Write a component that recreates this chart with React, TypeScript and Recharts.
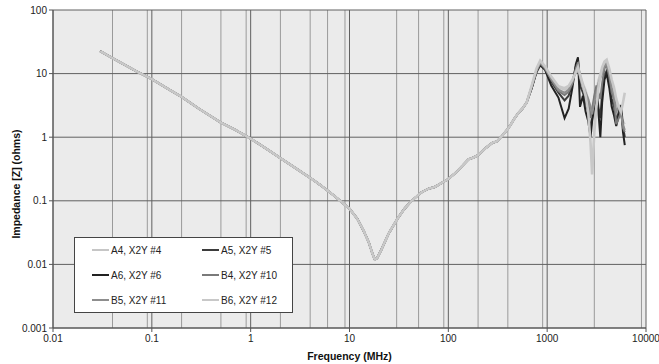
import { LineChart, Line, XAxis, YAxis, CartesianGrid } from "recharts";

// shared part of the sweep: all six samples sit on top of each other up to ~600 MHz
const lowFreq = [
  0.03, 0.04, 0.05, 0.07, 0.1, 0.15, 0.2, 0.3, 0.5, 0.7, 1, 1.5, 2, 3, 4, 5, 7, 10, 12, 14,
  15.7, 17, 18, 19, 21, 25, 31, 36, 42, 53, 63, 73, 85, 100, 120, 140, 160, 180, 200, 240,
  280, 310, 350, 400, 430, 470, 510, 560, 620,
];
const lowZ = [
  22.5, 17.5, 14.5, 10.8, 8.2, 5.6, 4.3, 2.8, 1.7, 1.3, 0.95, 0.63, 0.47, 0.31, 0.23, 0.18,
  0.12, 0.075, 0.052, 0.033, 0.022, 0.015, 0.012, 0.0125, 0.017, 0.031, 0.054, 0.075, 0.098,
  0.135, 0.155, 0.165, 0.19, 0.22, 0.28, 0.36, 0.45, 0.48, 0.52, 0.68, 0.82, 0.86, 1.05, 1.35,
  1.6, 2.0, 2.4, 2.8, 3.5,
];

// resonance region, where the samples split up
const highFreq = [
  700, 780, 850, 950, 1100, 1300, 1500, 1650, 1800, 1950, 2050, 2150, 2300, 2450, 2600, 2750,
  2850, 3000, 3150, 3300, 3450, 3600, 3800, 4000, 4250, 4500, 4750, 5000, 5300, 5600, 5850, 6100,
];
const a4 = [
  6.5, 11.5, 15.5, 12.5, 8.5, 6.0, 5.6, 6.0, 7.5, 11.0, 13.5, 10.0, 7.0, 5.5, 4.0, 2.8,
  2.2, 3.5, 5.5, 8.0, 10.0, 12.0, 14.5, 15.5, 11.0, 7.0, 5.5, 3.5, 2.6, 2.2, 1.8, 1.6,
];
const a5 = [
  6.0, 11.0, 14.5, 12.0, 7.5, 5.0, 3.8, 4.5, 7.0, 13.0, 17.0, 6.5, 5.0, 3.5, 2.5, 1.3,
  2.0, 4.0, 6.0, 3.0, 2.0, 5.0, 9.5, 11.0, 7.0, 4.0, 3.0, 1.8, 2.5, 3.2, 1.5, 1.0,
];
const a6 = [
  6.0, 10.5, 13.5, 11.5, 6.5, 4.2, 2.0, 2.8, 6.0, 14.0, 18.0, 3.0, 4.5, 2.5, 1.8, 1.0,
  1.8, 3.0, 4.5, 2.5, 1.0, 3.5, 8.0, 10.0, 6.0, 3.0, 2.2, 1.5, 2.2, 3.0, 1.2, 0.75,
];
const b4 = [
  6.3, 11.0, 14.5, 12.0, 8.0, 5.3, 4.6, 5.2, 7.0, 12.0, 15.0, 8.5, 6.0, 4.5, 3.5, 2.0,
  2.8, 4.5, 6.5, 5.0, 4.0, 7.0, 12.0, 13.5, 9.0, 5.0, 4.0, 1.6, 2.0, 2.5, 1.4, 1.2,
];
const b5 = [
  6.4, 11.2, 15.0, 12.3, 8.2, 5.6, 5.0, 5.6, 7.3, 11.5, 14.0, 9.0, 6.5, 5.0, 4.0, 3.0,
  2.3, 3.5, 5.0, 7.0, 8.5, 10.0, 13.0, 14.5, 10.0, 6.0, 4.5, 2.5, 3.0, 2.2, 1.6, 1.3,
];
const b6 = [
  6.6, 12.0, 16.0, 13.0, 9.0, 6.3, 5.9, 6.4, 8.0, 10.5, 12.5, 9.5, 6.5, 4.5, 2.5, 0.8,
  0.26, 1.2, 3.0, 6.0, 9.0, 12.5, 15.5, 16.5, 12.0, 8.0, 6.0, 4.0, 3.0, 2.5, 3.5, 5.0,
];

const xTicks = [0.01, 0.1, 1, 10, 100, 1000, 10000];
const yTicks = [0.001, 0.01, 0.1, 1, 10, 100];
const steps = [2, 3, 4, 5, 6, 7, 8, 9];
const minorX = xTicks.slice(0, -1).flatMap((d) => steps.map((s) => d * s));

const series = [
  { name: "A4, X2Y #4", values: a4, color: "#c6c6c6", width: 2 },
  { name: "A5, X2Y #5", values: a5, color: "#3c3c3c", width: 2 },
  { name: "A6, X2Y #6", values: a6, color: "#222222", width: 2 },
  { name: "B4, X2Y #10", values: b4, color: "#7a7a7a", width: 2 },
  { name: "B5, X2Y #11", values: b5, color: "#8e8e8e", width: 2 },
  { name: "B6, X2Y #12", values: b6, color: "#c8c8c8", width: 2.6 },
];

function buildData(values: number[]) {
  return [
    ...lowFreq.map((f, i) => ({ f, z: lowZ[i] })),
    ...highFreq.map((f, i) => ({ f, z: values[i] })),
  ];
}

const font = "'Liberation Sans', Arial, sans-serif";

function LegendBox() {
  return (
    <div
      style={{
        position: "absolute",
        left: 74,
        top: 237,
        width: 217,
        height: 74,
        background: "#fff",
        border: "1px solid #444",
        fontFamily: font,
        fontSize: 10,
        color: "#222",
      }}
    >
      {series.map((s, i) => {
        const col = i % 2;
        const row = Math.floor(i / 2);
        return (
          <div
            key={s.name}
            style={{
              position: "absolute",
              left: col === 0 ? 17 : 127,
              top: 5 + row * 25,
              display: "flex",
              alignItems: "center",
              height: 14,
            }}
          >
            <span style={{ width: 17, height: 2, background: s.color, marginRight: 2 }} />
            <span>{s.name}</span>
          </div>
        );
      })}
    </div>
  );
}

export default function App() {
  return (
    <div style={{ position: "absolute", left: 0, top: 0, width: 659, height: 364, background: "#fff" }}>
      <LineChart width={659} height={364} margin={{ top: 10, right: 13, left: 8, bottom: 0 }}>
        <CartesianGrid
          fill="#ebebeb"
          stroke="#9a9a9a"
          horizontal={false}
          verticalValues={minorX}
        />
        <CartesianGrid stroke="#606060" verticalValues={xTicks} horizontalValues={yTicks} />
        <XAxis
          type="number"
          dataKey="f"
          scale="log"
          domain={[0.01, 10000]}
          ticks={xTicks}
          allowDataOverflow
          height={36}
          tickSize={4}
          tickMargin={3}
          stroke="#555"
          tick={{ fill: "#222", fontSize: 10, fontFamily: font }}
          label={{
            value: "Frequency (MHz)",
            position: "insideBottom",
            offset: 4,
            style: { fill: "#111", fontSize: 10.5, fontWeight: "bold", fontFamily: font },
          }}
        />
        <YAxis
          type="number"
          dataKey="z"
          scale="log"
          domain={[0.001, 100]}
          ticks={yTicks}
          allowDataOverflow
          width={45}
          tickSize={4}
          tickMargin={2}
          stroke="#555"
          tick={{ fill: "#222", fontSize: 10, fontFamily: font }}
          label={{
            value: "Impedance [Z] (ohms)",
            angle: -90,
            position: "insideLeft",
            offset: 8,
            dy: 15,
            style: { textAnchor: "middle", fill: "#111", fontSize: 10.5, fontWeight: "bold", fontFamily: font },
          }}
        />
        {series.map((s) => (
          <Line
            key={s.name}
            name={s.name}
            data={buildData(s.values)}
            dataKey="z"
            stroke={s.color}
            strokeWidth={s.width}
            dot={false}
            isAnimationActive={false}
          />
        ))}
      </LineChart>
      <LegendBox />
    </div>
  );
}
